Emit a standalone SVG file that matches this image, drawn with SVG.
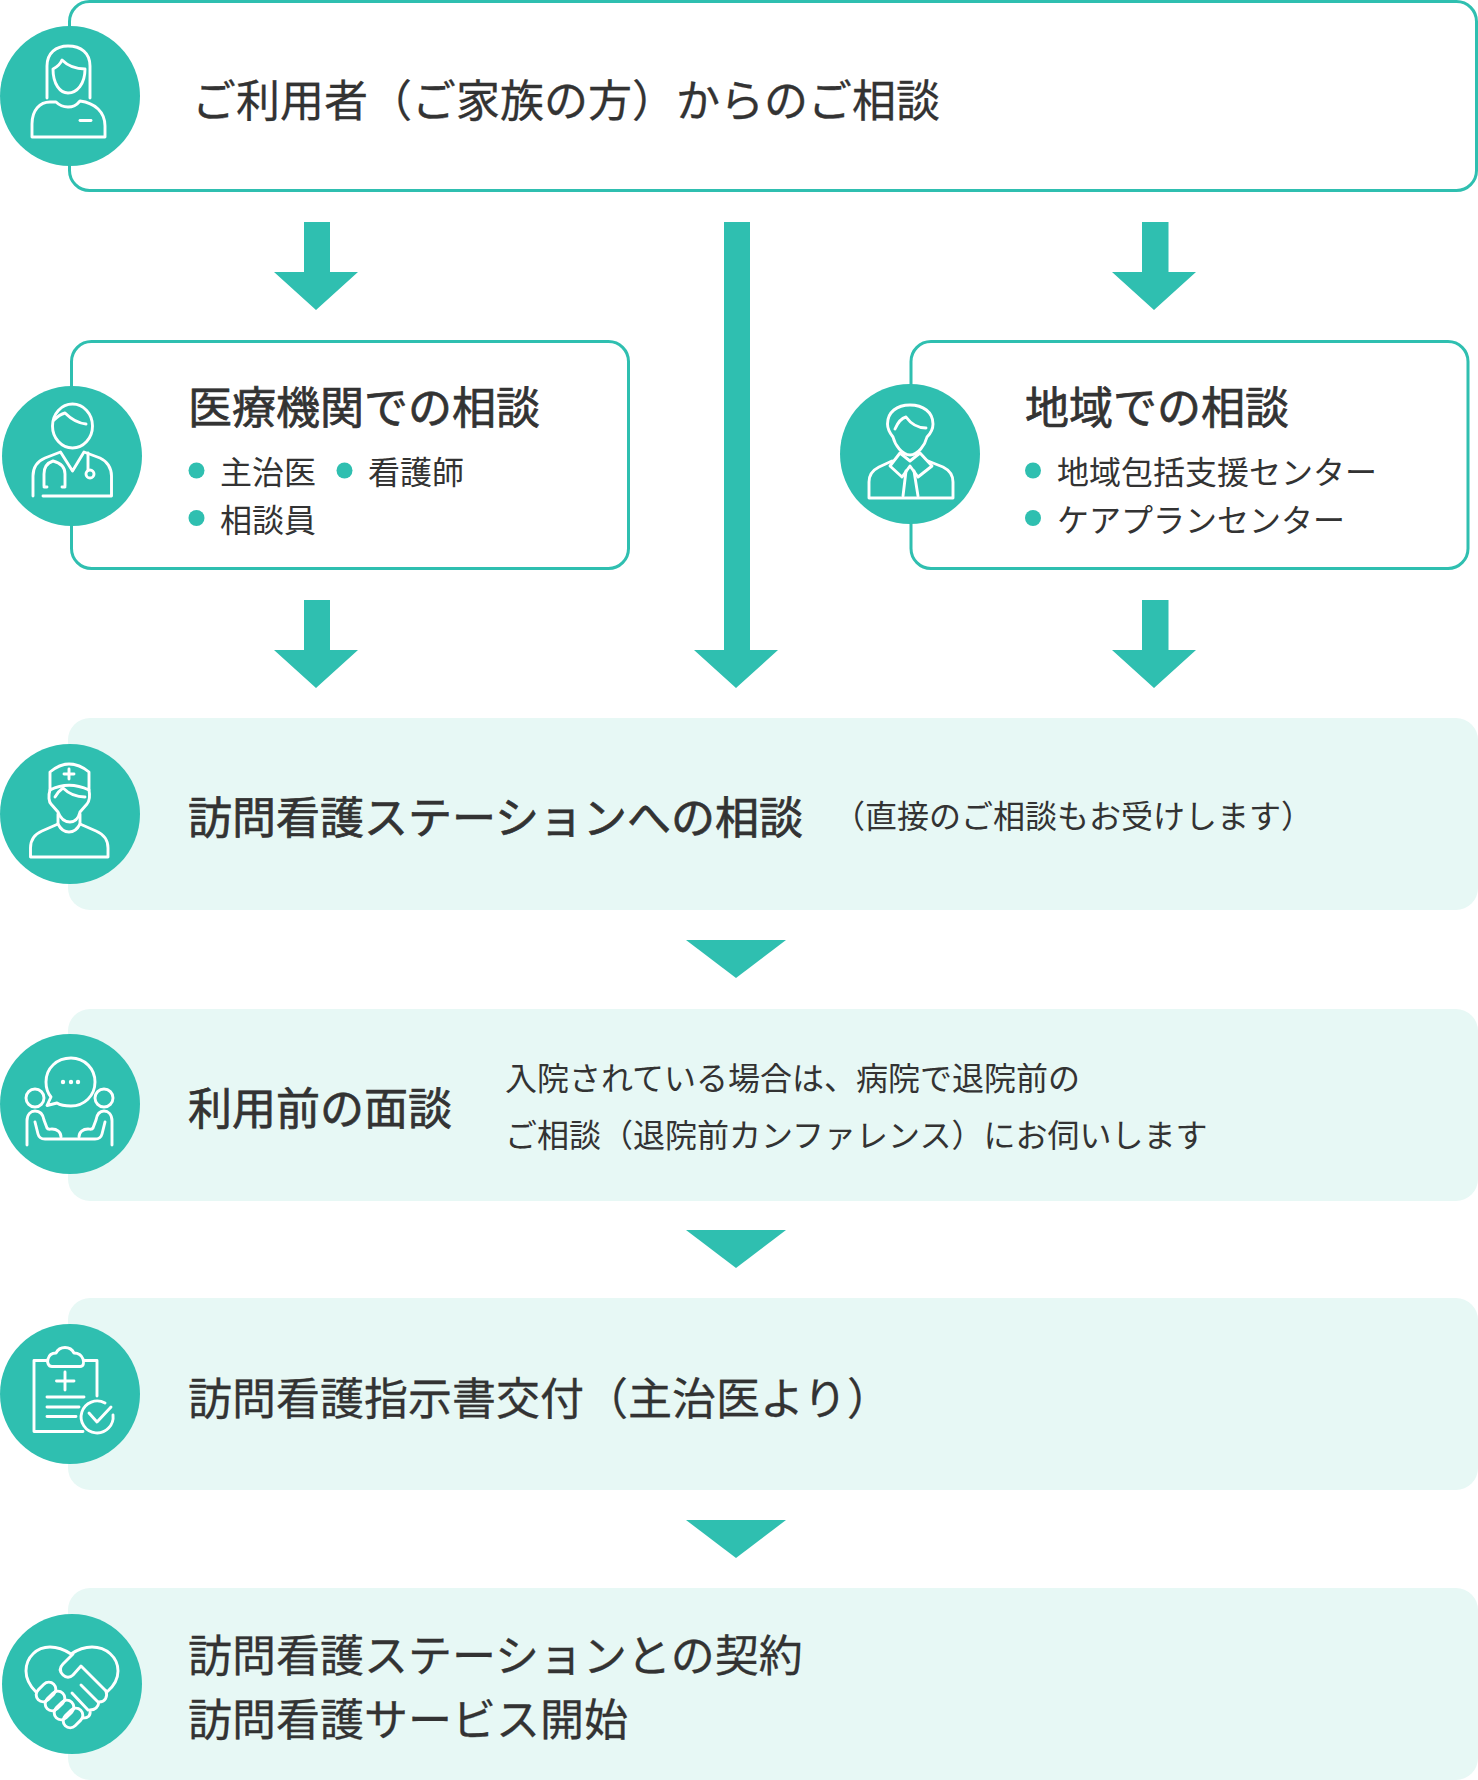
<svg xmlns="http://www.w3.org/2000/svg" width="1478" height="1780" viewBox="0 0 1478 1780">
<style>
text{font-family:"Noto Sans CJK JP","Noto Sans",sans-serif;fill:#333}
.t{font-size:44px;stroke:#333;stroke-width:.3px}
.b{stroke-width:.7px}
.s{font-size:32px}
.box{fill:#fff;stroke:#2fbfb0;stroke-width:3}
.panel{fill:#e7f8f5}
.c,.dot,.arrow{fill:#2fbfb0}
.i{fill:none;stroke:#fff;stroke-width:2.9;stroke-linecap:round;stroke-linejoin:round}
.w{fill:#fff}
</style>
<rect width="1478" height="1780" fill="#fff"/>
<g id="connectors">
<polygon class="arrow" points="304,222 330,222 330,272 358,272 316,310 274,272 304,272"/>
<polygon class="arrow" points="724,222 750,222 750,650 778,650 736,688 694,650 724,650"/>
<polygon class="arrow" points="1142,222 1168.500,222 1168.500,272 1196,272 1154,310 1112,272 1142,272"/>
<polygon class="arrow" points="304,600 330,600 330,650 358,650 316,688 274,650 304,650"/>
<polygon class="arrow" points="1142,600 1168.500,600 1168.500,650 1196,650 1154,688 1112,650 1142,650"/>
<polygon class="arrow" points="686,940 786,940 736,978"/>
<polygon class="arrow" points="686,1230 786,1230 736,1268"/>
<polygon class="arrow" points="686,1520 786,1520 736,1558"/>
</g>
<g id="node-user">
<rect class="box" x="69.500" y="1.500" width="1407" height="189" rx="20"/>
<circle class="c" cx="70" cy="96" r="70"/>
<path class="i" d="M47,98V66C47,53 56,46 68,46C81,46 90,53 90,66V98"/>
<path class="i" d="M53,69C53,84 60,93 68,93C77,93 85,84 85,69C75,69 68,66 62,60C60,65 57,67 53,69Z"/>
<path class="i" d="M32,137V124C32,110 40,102 50,102H56C60,106 63,107 68,107C73,107 76,106 80,101C95,103 105,112 105,126V137Z"/>
<path class="i" d="M80,120.500H91"/>
<text class="t" x="192" y="117">ご利用者（ご家族の方）からのご相談</text>
</g>
<g id="node-medical">
<rect class="box" x="71.500" y="341.500" width="557" height="227" rx="20"/>
<circle class="c" cx="72" cy="456" r="70"/>
<ellipse class="i" cx="72.500" cy="426" rx="20" ry="22"/>
<path class="i" d="M54,420C58,416 61,414 65,413C70,418 76,423 86,424"/>
<path class="i" d="M33,496V476C33,466 38,461 45,458L60.500,452L72.500,471L84,452L100,458C107,461 111.500,468 111.500,476V496H43"/>
<path class="i" d="M53,461C47,463 44,468 44,474V486M47,487H44M53,461C61,463 65,468 65,474V486M62,487H65M88,453V470"/>
<circle class="i" cx="90" cy="474" r="4"/>
<text class="t b" x="188" y="424">医療機関での相談</text>
<circle class="dot" cx="196.500" cy="470.500" r="8"/>
<text class="s" x="220" y="484">主治医</text>
<circle class="dot" cx="344.500" cy="470.500" r="8"/>
<text class="s" x="368" y="484">看護師</text>
<circle class="dot" cx="196.500" cy="518" r="8"/>
<text class="s" x="220" y="532">相談員</text>
</g>
<g id="node-community">
<rect class="box" x="911" y="341.500" width="557" height="227" rx="20"/>
<circle class="c" cx="910" cy="454" r="70"/>
<path class="i" d="M893,437C889,432 887.500,428 887.500,424C887.500,412 897,405 910,405C923,405 933,412 933,424C933,428 931,433 927,437C925,445 918,455 910,455C902,455 895,445 893,437Z"/>
<path class="i" d="M895,429C898,422 902,418 906,417C911,424 917,428 926,428"/>
<path class="i" d="M869,498V482C869,474 873,470 879,467L892,461M953,498V482C953,474 949,470 943,467L928,461M869,498H953"/>
<path class="i" d="M900,453L910,461L920,453L932,466L918,477L910,466L902,477L890,466Z"/>
<path class="i" d="M906,471L903,496M914,471L918,496"/>
<text class="t b" x="1025" y="424">地域での相談</text>
<circle class="dot" cx="1033" cy="470.500" r="8"/>
<text class="s" x="1057" y="484">地域包括支援センター</text>
<circle class="dot" cx="1033" cy="518" r="8"/>
<text class="s" x="1057" y="532">ケアプランセンター</text>
</g>
<g id="node-station">
<rect class="panel" x="68" y="718" width="1410" height="192" rx="22"/>
<circle class="c" cx="70" cy="814" r="70"/>
<path class="i" d="M50,790V772C56,767 62,764 69,764C76,764 83,767 89,772V790C76,784 62,784 50,790Z"/>
<path class="i" d="M69,769V779M64,774H74"/>
<path class="i" d="M50,790C48,796 49,802 51,804L58,812C61,820 66,822 70,822C74,822 78,820 80,812L87,804C90,800 90,795 89,790"/>
<path class="i" d="M55,797C58,792 60,790 63,788C68,793 74,797 85,797"/>
<path class="i" d="M58,814V824C61,830 65,832 69,832C73,832 77,830 80,824V814"/>
<path class="i" d="M58,824L42,831C35,834 30.500,840 30.500,848V857H108V848C108,840 103,834 96,831L80,824"/>
<text class="t b" x="188" y="834">訪問看護ステーションへの相談</text>
<text class="s" x="833" y="828">（直接のご相談もお受けします）</text>
</g>
<g id="node-interview">
<rect class="panel" x="68" y="1009" width="1410" height="192" rx="22"/>
<circle class="c" cx="70" cy="1104" r="70"/>
<path class="i" d="M47,1105.500L51,1097C46,1091 46,1086 46,1082C46,1068 57,1058 71,1058C85,1058 95,1069 95,1082C95,1096 84,1106 71,1106C65,1106 60,1105 57,1103Z"/>
<circle class="w" cx="63" cy="1082" r="2.200"/><circle class="w" cx="71" cy="1082" r="2.200"/><circle class="w" cx="78" cy="1082" r="2.200"/>
<circle class="i" cx="35" cy="1098" r="9"/>
<circle class="i" cx="104" cy="1098" r="9"/>
<path class="i" d="M27,1145V1121C27,1114 31,1111 35,1111C40,1111 43,1114 44,1120L47,1128C48,1130 50,1129 52,1129C57,1129 61,1132 61,1137"/>
<path class="i" d="M112,1145V1121C112,1114 108,1111 104,1111C99,1111 97,1114 96,1120L93,1128C92,1130 90,1129 88,1129C83,1129 79,1132 79,1137"/>
<path class="i" d="M35,1122L38,1134C39,1138 41,1139 45,1139H95C99,1139 101,1138 102,1134L105,1122"/>
<text class="t b" x="188" y="1125">利用前の面談</text>
<text class="s" x="505" y="1090">入院されている場合は、病院で退院前の</text>
<text class="s" x="505" y="1147">ご相談（退院前カンファレンス）にお伺いします</text>
</g>
<g id="node-instruction">
<rect class="panel" x="68" y="1298" width="1410" height="192" rx="22"/>
<circle class="c" cx="70" cy="1394" r="70"/>
<path class="i" d="M83,1431.500H34V1360.500H47M84,1360.500H97V1396"/>
<path class="i" d="M52,1366.500H80C84,1366.500 84,1362 83,1359C81,1354 78,1353 74,1353C72,1349 69,1347.500 65,1347.500C61,1347.500 58,1349 56,1353C52,1353 49,1355 48,1359C47,1362 48,1366.500 52,1366.500Z"/>
<path class="i" d="M65,1372V1390M56.500,1381H74"/>
<path class="i" d="M47,1397H84M47,1407H79M47,1416.500H76"/>
<path class="i" d="M105,1403A16,16 0 1,0 113,1415"/>
<path class="i" d="M89,1413L97,1422L111,1407"/>
<text class="t" x="188" y="1415">訪問看護指示書交付（主治医より）</text>
</g>
<g id="node-contract">
<rect class="panel" x="68" y="1588" width="1410" height="192" rx="22"/>
<circle class="c" cx="72" cy="1684" r="70"/>
<path class="i" d="M36,1692C29,1685 26,1678 26,1671C26,1657 37,1647 50,1647C58,1647 65,1650 71,1654C77,1650 84,1647 92,1647C106,1647 118,1657 118,1671C118,1679 114,1686 107,1692"/>
<path class="i" d="M73,1654L63,1664C59,1668 60,1672 63,1675C66,1678 70,1678 73,1675L81,1666L106,1691"/>
<path class="i" d="M106,1691C108,1697 105,1702 99,1702C98,1708 95,1710 90,1710C91,1716 88,1718 83,1718"/>
<path class="i" d="M81,1685L98,1702M72,1693L88,1710"/>
<g transform="rotate(-45 46 1692)"><rect class="i" x="35" y="1685" width="22" height="14" rx="7"/></g>
<g transform="rotate(-45 55 1701)"><rect class="i" x="44" y="1694" width="22" height="14" rx="7"/></g>
<g transform="rotate(-45 64 1710)"><rect class="i" x="53" y="1703" width="22" height="14" rx="7"/></g>
<g transform="rotate(-45 73 1718)"><rect class="i" x="62" y="1711" width="22" height="14" rx="7"/></g>
<text class="t" x="188" y="1672">訪問看護ステーションとの契約</text>
<text class="t" x="188" y="1736">訪問看護サービス開始</text>
</g>
</svg>
